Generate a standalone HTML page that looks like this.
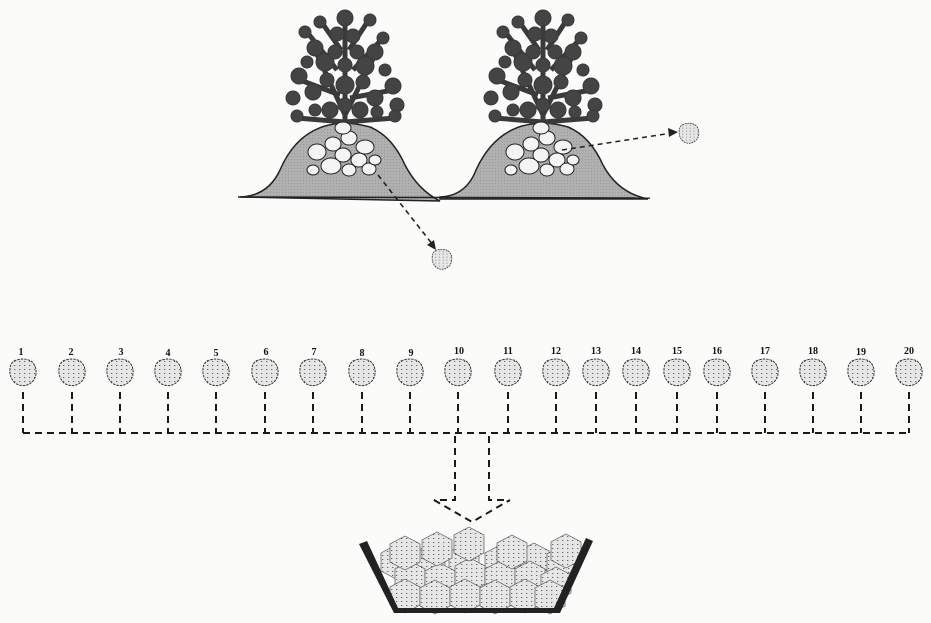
<!DOCTYPE html>
<html><head><meta charset="utf-8"><style>
html,body{margin:0;padding:0;background:#fbfbfa;}
svg{display:block}
text{font-family:"Liberation Serif",serif;font-weight:bold;font-size:10px;fill:#111;text-anchor:middle}
</style></head><body>
<svg width="931" height="623" viewBox="0 0 931 623" xmlns="http://www.w3.org/2000/svg">
<defs>
<pattern id="dots" width="5" height="4" patternUnits="userSpaceOnUse">
<rect width="5" height="4" fill="#e6e6e6"/><rect x="1" y="1" width="1.3" height="1" fill="#666"/>
</pattern>
<pattern id="soil" width="3" height="3" patternUnits="userSpaceOnUse">
<rect width="3" height="3" fill="#b0b0b0"/><rect width="1" height="1" fill="#999"/>
</pattern>
<path id="tub" d="M-9,-11 Q0,-15 8,-11 Q14,-6 13,2 Q12,10 4,13 Q-2,15 -8,11 Q-14,5 -13,-3 Q-13,-8 -9,-11Z" fill="url(#dots)" stroke="#333" stroke-width="1" stroke-dasharray="2.5 1"/>
<path id="hex" d="M0,-17 L15,-9 L15,9 L0,17 L-15,9 L-15,-9Z" fill="url(#dots)" stroke="#555" stroke-width="0.7"/>
<g id="plant" fill="#444" stroke="#3a3a3a">
<path d="M0,118 L0,10 M0,105 L-30,40 M0,105 L30,45 M-5,85 L-45,70 M5,88 L48,80 M-8,60 L-38,22 M8,60 L38,28 M0,112 L-48,108 M0,112 L50,108 M-4,40 L-25,10 M4,40 L25,8" stroke-width="5" fill="none"/>
<circle cx="0" cy="8" r="8"/><circle cx="-8" cy="24" r="7"/><circle cx="8" cy="26" r="7"/>
<circle cx="-25" cy="12" r="6"/><circle cx="25" cy="10" r="6"/>
<circle cx="-30" cy="38" r="8"/><circle cx="30" cy="42" r="8"/><circle cx="-40" cy="22" r="6"/><circle cx="38" cy="28" r="6"/>
<circle cx="-46" cy="66" r="8"/><circle cx="48" cy="76" r="8"/><circle cx="-20" cy="52" r="9"/><circle cx="20" cy="56" r="9"/>
<circle cx="-52" cy="88" r="7"/><circle cx="52" cy="95" r="7"/><circle cx="-32" cy="82" r="8"/><circle cx="30" cy="88" r="8"/>
<circle cx="-15" cy="100" r="8"/><circle cx="15" cy="100" r="8"/><circle cx="-48" cy="106" r="6"/><circle cx="50" cy="106" r="6"/>
<circle cx="0" cy="75" r="9"/><circle cx="-10" cy="42" r="7"/><circle cx="12" cy="42" r="7"/>
<circle cx="-38" cy="52" r="6"/><circle cx="40" cy="60" r="6"/><circle cx="-18" cy="70" r="7"/><circle cx="18" cy="72" r="7"/>
<circle cx="-30" cy="100" r="6"/><circle cx="32" cy="102" r="6"/><circle cx="0" cy="55" r="7"/><circle cx="0" cy="95" r="7"/>
</g>
<g id="tubers" fill="#f4f4f4" stroke="#222" stroke-width="1">
<ellipse cx="-28" cy="30" rx="9" ry="8"/><ellipse cx="-12" cy="22" rx="8" ry="7"/><ellipse cx="4" cy="16" rx="8" ry="7"/>
<ellipse cx="20" cy="25" rx="9" ry="7"/><ellipse cx="-2" cy="33" rx="8" ry="7"/><ellipse cx="14" cy="38" rx="8" ry="7"/>
<ellipse cx="-14" cy="44" rx="10" ry="8"/><ellipse cx="-32" cy="48" rx="6" ry="5"/><ellipse cx="4" cy="48" rx="7" ry="6"/><ellipse cx="24" cy="47" rx="7" ry="6"/>
<ellipse cx="-2" cy="6" rx="8" ry="6"/><ellipse cx="30" cy="38" rx="6" ry="5"/>
</g>
</defs>
<path d="M240,197 Q268,196 280,170 Q295,135 325,126 Q345,120 370,127 Q392,136 405,165 Q418,190 440,201 Z" fill="url(#soil)" stroke="#222" stroke-width="1.5"/>
<path d="M440,197 Q466,196 476,170 Q492,135 522,126 Q545,120 568,127 Q590,136 603,165 Q618,193 648,199 L440,199 Z" fill="url(#soil)" stroke="#222" stroke-width="1.5"/>
<line x1="238" y1="197" x2="650" y2="198" stroke="#222" stroke-width="1.5"/>
<use href="#plant" x="345" y="10"/>
<use href="#plant" x="543" y="10"/>
<use href="#tubers" x="345" y="122"/>
<use href="#tubers" x="543" y="122"/>
<g stroke="#222" stroke-width="1.6" stroke-dasharray="5 4" fill="none">
<line x1="378" y1="175" x2="433" y2="245"/>
<line x1="562" y1="150" x2="672" y2="133"/>
</g>
<path d="M427,245 L436,250 L434,240Z M668,128 L678,132 L669,137Z" fill="#222"/>
<use href="#tub" transform="translate(442,259) scale(0.75)"/>
<use href="#tub" transform="translate(689,133) scale(0.75)"/>
<g>
<text x="21" y="355">1</text><text x="71" y="355">2</text><text x="121" y="355">3</text><text x="168" y="356">4</text><text x="216" y="356">5</text>
<text x="266" y="355">6</text><text x="314" y="355">7</text><text x="362" y="356">8</text><text x="411" y="356">9</text><text x="459" y="354">10</text>
<text x="508" y="354">11</text><text x="556" y="354">12</text><text x="596" y="354">13</text><text x="636" y="354">14</text><text x="677" y="354">15</text>
<text x="717" y="354">16</text><text x="765" y="354">17</text><text x="813" y="354">18</text><text x="861" y="355">19</text><text x="909" y="354">20</text>
</g>
<g>
<use href="#tub" x="23" y="372"/><use href="#tub" x="72" y="372"/><use href="#tub" x="120" y="372"/><use href="#tub" x="168" y="372"/><use href="#tub" x="216" y="372"/>
<use href="#tub" x="265" y="372"/><use href="#tub" x="313" y="372"/><use href="#tub" x="362" y="372"/><use href="#tub" x="410" y="372"/><use href="#tub" x="458" y="372"/>
<use href="#tub" x="508" y="372"/><use href="#tub" x="556" y="372"/><use href="#tub" x="596" y="372"/><use href="#tub" x="636" y="372"/><use href="#tub" x="677" y="372"/>
<use href="#tub" x="717" y="372"/><use href="#tub" x="765" y="372"/><use href="#tub" x="813" y="372"/><use href="#tub" x="861" y="372"/><use href="#tub" x="909" y="372"/>
</g>
<g stroke="#1a1a1a" stroke-width="2" stroke-dasharray="7 5" fill="none">
<path d="M23,392V433 M72,392V433 M120,392V433 M168,392V433 M216,392V433 M265,392V433 M313,392V433 M362,392V433 M410,392V433 M458,392V433 M508,392V433 M556,392V433 M596,392V433 M636,392V433 M677,392V433 M717,392V433 M765,392V433 M813,392V433 M861,392V433 M909,392V433"/>
<path d="M23,433H909"/>
<path d="M455,436V500H434 M489,436V500H508 M434,500L472,522L510,500"/>
</g>
<g>
<use href="#hex" x="396" y="562"/><use href="#hex" x="430" y="561"/><use href="#hex" x="464" y="561"/><use href="#hex" x="500" y="562"/><use href="#hex" x="534" y="560"/><use href="#hex" x="562" y="563"/>
<use href="#hex" x="410" y="578"/><use href="#hex" x="440" y="580"/><use href="#hex" x="470" y="575"/><use href="#hex" x="500" y="578"/><use href="#hex" x="530" y="578"/><use href="#hex" x="556" y="584"/>
<use href="#hex" x="405" y="596"/><use href="#hex" x="435" y="597"/><use href="#hex" x="465" y="596"/><use href="#hex" x="495" y="597"/><use href="#hex" x="525" y="596"/><use href="#hex" x="550" y="597"/>
<use href="#hex" x="405" y="553"/><use href="#hex" x="437" y="549"/><use href="#hex" x="469" y="544"/><use href="#hex" x="512" y="552"/><use href="#hex" x="566" y="551"/>
</g>
<path d="M359,544 L367,541 L398,608 L554,608 L586,538 L593,541 L560,613 L394,613Z" fill="#222"/>
</svg>
</body></html>
